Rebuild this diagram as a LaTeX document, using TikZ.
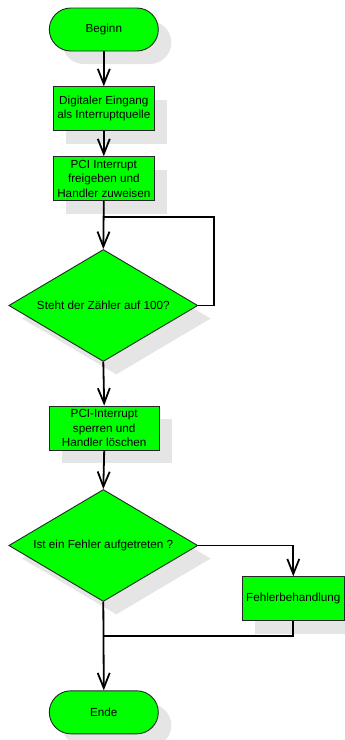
\documentclass[tikz,border=0pt]{standalone}
\usepackage{fontspec}
\setmainfont{Liberation Sans}
\usetikzlibrary{shapes.geometric,shadows,arrows.meta}

\tikzset{
  flowshadow/.style={drop shadow={shadow xshift=13pt,shadow yshift=-13pt,fill=black!10,opacity=1}},
  flownode/.style={draw=black!85,line width=0.9pt,fill=green,flowshadow,
    font=\fontsize{11.7}{14.3}\selectfont,align=center,inner sep=1pt},
  terminal/.style={flownode,rectangle,rounded corners=21.5pt,minimum width=109pt,minimum height=43pt},
  process/.style={flownode,rectangle,minimum height=44pt},
  decision/.style={flownode,diamond,aspect=1.69,minimum width=189pt,minimum height=112pt,inner sep=0pt},
  link/.style={line width=1.8pt,black},
  flow/.style={link,-{Straight Barb[length=15pt,width=12pt]}}
}

\begin{document}
\begin{tikzpicture}[x=1pt,y=-1pt]
  \useasboundingbox (0,0) rectangle (345,740);

  % blocks of the flow chart
  \node[terminal] (start) at (103.8,29.5) {Beginn};
  \node[process,minimum width=101pt] (src) at (103.8,108.7) {Digitaler Eingang\\als Interruptquelle};
  \node[process,minimum width=101pt] (enable) at (103.8,178.7) {PCI Interrupt\\freigeben und\\Handler zuweisen};
  \node[decision] (count) at (103.3,305.5) {Steht der Zähler auf 100?};
  \node[process,minimum width=110pt] (disable) at (104.2,428) {PCI-Interrupt\\sperren und\\Handler löschen};
  \node[decision] (err) at (103.3,545.5) {Ist ein Fehler aufgetreten ?};
  \node[process,minimum width=102pt] (handle) at (293.3,598.8) {Fehlerbehandlung};
  \node[terminal] (stop) at (103.8,712.3) {Ende};

  % junctions and bend points
  \coordinate (loopin) at (103.3,217.3);
  \coordinate (loopright) at (214,217.3);
  \coordinate (merge) at (103.3,636);

  % connectors
  \draw[flow] (start.south) -- (src.north);
  \draw[flow] (src.south) -- (enable.north);
  \draw[flow] (enable.south) -- (count.north);
  \draw[link] (count.east) -| (loopright) -- (loopin);
  \draw[flow] (count.south) -- (disable.north);
  \draw[flow] (disable.south) -- (err.north);
  \draw[flow] (err.east) -| (handle.north);
  \draw[link] (handle.south) |- (merge);
  \draw[flow] (err.south) -- (stop.north);
\end{tikzpicture}
\end{document}
